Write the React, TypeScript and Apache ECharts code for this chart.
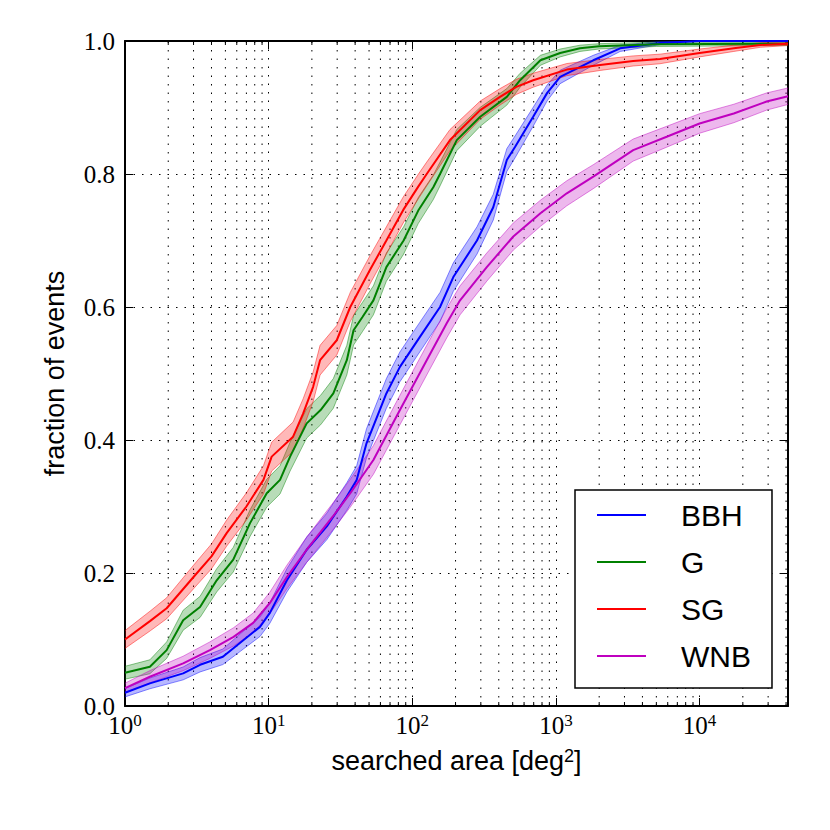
import React, { useEffect, useRef } from "react";
import * as echarts from "echarts";

// ---- data ----
const seriesNames = ["BBH", "G", "SG", "WNB"];

const bbhArea = [1, 1.49, 2.54, 3.33, 4.8, 6.66, 8.7, 10.2, 13.4, 18.4, 25.4, 35, 41, 48, 66, 82, 113, 156, 193, 282, 366, 455, 520, 694, 869, 1070, 1820, 2800, 5300, 10000, 41253];
const bbhFrac = [0.02, 0.034, 0.049, 0.062, 0.074, 0.099, 0.119, 0.14, 0.189, 0.235, 0.27, 0.315, 0.34, 0.395, 0.47, 0.51, 0.555, 0.6, 0.645, 0.7, 0.75, 0.821, 0.841, 0.886, 0.922, 0.946, 0.971, 0.989, 0.997, 1.0, 1.0];
const bbhErr = [0.0063, 0.0081, 0.0097, 0.0108, 0.0117, 0.0134, 0.0145, 0.0155, 0.0175, 0.019, 0.0199, 0.0208, 0.0212, 0.0219, 0.0223, 0.0224, 0.0222, 0.0219, 0.0214, 0.0205, 0.0194, 0.0171, 0.0164, 0.0142, 0.012, 0.0101, 0.0075, 0.0047, 0.0024, 0, 0];

const gArea = [1, 1.49, 1.95, 2.54, 3.33, 4.35, 5.67, 7.42, 9.7, 12, 14.1, 18.4, 23, 28.2, 35, 39, 45, 53.6, 66, 87, 110, 140, 156, 204, 297, 455, 563, 780, 1070, 1470, 2000, 5000, 41253];
const gFrac = [0.05, 0.059, 0.084, 0.129, 0.149, 0.189, 0.22, 0.275, 0.32, 0.34, 0.375, 0.425, 0.445, 0.47, 0.52, 0.565, 0.585, 0.61, 0.66, 0.7, 0.745, 0.78, 0.8, 0.851, 0.886, 0.916, 0.941, 0.971, 0.982, 0.989, 0.992, 0.995, 0.996];
const gErr = [0.0097, 0.0105, 0.0124, 0.015, 0.0159, 0.0175, 0.0185, 0.02, 0.0209, 0.0212, 0.0217, 0.0221, 0.0222, 0.0223, 0.0223, 0.0222, 0.022, 0.0218, 0.0212, 0.0205, 0.0195, 0.0185, 0.0179, 0.0159, 0.0142, 0.0124, 0.0105, 0.0075, 0.0059, 0.0047, 0.004, 0.0032, 0.0028];

const sgArea = [1, 1.5, 1.95, 3.0, 4, 5.1, 7.0, 9.2, 10.5, 14.8, 17.4, 20.4, 22.8, 29.8, 37, 50.8, 66, 86.5, 110, 126, 183, 297, 408, 530, 694, 1190, 2030, 3450, 5300, 10000, 17300, 26500, 41253];
const sgFrac = [0.1, 0.128, 0.147, 0.194, 0.225, 0.26, 0.3, 0.34, 0.375, 0.405, 0.44, 0.48, 0.52, 0.55, 0.6, 0.656, 0.7, 0.746, 0.781, 0.8, 0.851, 0.896, 0.916, 0.931, 0.941, 0.957, 0.964, 0.97, 0.973, 0.982, 0.989, 0.994, 0.996];
const sgErr = [0.0134, 0.0149, 0.0158, 0.0177, 0.0187, 0.0196, 0.0205, 0.0212, 0.0217, 0.022, 0.0222, 0.0223, 0.0223, 0.0222, 0.0219, 0.0212, 0.0205, 0.0195, 0.0185, 0.0179, 0.0159, 0.0137, 0.0124, 0.0113, 0.0105, 0.0091, 0.0083, 0.0076, 0.0072, 0.0059, 0.0047, 0.0035, 0.0028];

const wnbArea = [1, 1.49, 2.54, 3.9, 5.7, 7.8, 10.2, 13.4, 18.4, 28, 37, 53.6, 82, 126, 174, 215, 330, 505, 780, 1190, 1820, 3450, 5900, 10000, 17300, 29300, 41253];
const wnbFrac = [0.027, 0.044, 0.064, 0.084, 0.104, 0.125, 0.155, 0.194, 0.235, 0.285, 0.32, 0.37, 0.445, 0.52, 0.576, 0.61, 0.66, 0.706, 0.741, 0.771, 0.796, 0.836, 0.856, 0.876, 0.891, 0.909, 0.917];
const wnbErr = [0.0073, 0.0092, 0.0109, 0.0124, 0.0137, 0.0148, 0.0162, 0.0177, 0.019, 0.0202, 0.0209, 0.0216, 0.0222, 0.0223, 0.0221, 0.0218, 0.0212, 0.0204, 0.0196, 0.0188, 0.018, 0.0166, 0.0157, 0.0147, 0.0139, 0.0129, 0.0124];

const xMin = 1;
const xMax = 41253;
const minorTickValues = [
  2, 3, 4, 5, 6, 7, 8, 9,
  20, 30, 40, 50, 60, 70, 80, 90,
  200, 300, 400, 500, 600, 700, 800, 900,
  2000, 3000, 4000, 5000, 6000, 7000, 8000, 9000,
  20000, 30000, 40000,
];
const yTickLabels = ["0.0", "0.2", "0.4", "0.6", "0.8", "1.0"];

const SERIF = "'Liberation Serif', 'DejaVu Serif', serif";
const SANS = "'Liberation Sans', Arial, sans-serif";
const DOT = [1.5, 7];

type Spec = { name: string; rgb: string; xs: number[]; ys: number[]; err: number[] };
const specs: Spec[] = [
  { name: "BBH", rgb: "0,0,255", xs: bbhArea, ys: bbhFrac, err: bbhErr },
  { name: "G", rgb: "0,128,0", xs: gArea, ys: gFrac, err: gErr },
  { name: "SG", rgb: "255,0,0", xs: sgArea, ys: sgFrac, err: sgErr },
  { name: "WNB", rgb: "191,0,191", xs: wnbArea, ys: wnbFrac, err: wnbErr },
];

function xLabel(v: number): string {
  const l = Math.log10(v);
  const e = Math.round(l);
  if (Math.abs(l - e) > 1e-6) return "";
  return `{b|10}{s|${e}}`;
}

export default function App() {
  const ref = useRef<HTMLDivElement>(null);

  useEffect(() => {
    document.body.style.margin = "0";
    if (!ref.current) return;
    const chart = echarts.init(ref.current, undefined, { renderer: "svg" });

    const bandSeries = specs.map((s) => ({
      type: "custom",
      name: s.name + " band",
      xAxisIndex: 0,
      yAxisIndex: 0,
      data: [[s.xs[0], s.ys[0]]],
      z: 2,
      silent: true,
      clip: true,
      renderItem: (_p: any, api: any) => {
        const up = s.xs.map((x, i) => api.coord([x, s.ys[i] + s.err[i]]));
        const lo = s.xs.map((x, i) => api.coord([x, s.ys[i] - s.err[i]]));
        return {
          type: "group",
          children: [
            { type: "polygon", shape: { points: up.concat(lo.slice().reverse()) }, style: { fill: `rgba(${s.rgb},0.28)`, stroke: "none" } },
            { type: "polyline", shape: { points: up }, style: { stroke: `rgba(${s.rgb},0.45)`, lineWidth: 1, fill: "none" } },
            { type: "polyline", shape: { points: lo }, style: { stroke: `rgba(${s.rgb},0.45)`, lineWidth: 1, fill: "none" } },
          ],
        };
      },
    }));

    const lineSeries = specs.map((s) => ({
      type: "line",
      name: s.name,
      xAxisIndex: 0,
      yAxisIndex: 0,
      data: s.xs.map((x, i) => [x, s.ys[i]]),
      showSymbol: false,
      symbol: "none",
      color: `rgb(${s.rgb})`,
      lineStyle: { width: 2, color: `rgb(${s.rgb})` },
      z: 3,
      silent: true,
    }));

    const minorSeries = {
      type: "custom",
      name: "minor",
      xAxisIndex: 0,
      yAxisIndex: 0,
      data: minorTickValues.map((v) => [v, 0]),
      encode: { x: 0, y: 1 },
      z: 1,
      silent: true,
      renderItem: (_p: any, api: any) => {
        const x = api.value(0);
        const b = api.coord([x, 0]);
        const t = api.coord([x, 1]);
        return {
          type: "group",
          children: [
            { type: "line", shape: { x1: b[0], y1: b[1], x2: t[0], y2: t[1] }, style: { stroke: "#000", lineWidth: 1, lineDash: DOT } },
            { type: "line", shape: { x1: b[0], y1: b[1], x2: b[0], y2: b[1] - 4 }, style: { stroke: "#000", lineWidth: 1 } },
            { type: "line", shape: { x1: t[0], y1: t[1], x2: t[0], y2: t[1] + 4 }, style: { stroke: "#000", lineWidth: 1 } },
          ],
        };
      },
    };

    const axisLine = { show: true, onZero: false, lineStyle: { color: "#000", width: 2 } };
    const tick = { show: true, inside: true, length: 8, lineStyle: { color: "#000", width: 1 } };

    chart.setOption({
      animation: false,
      backgroundColor: "#fff",
      grid: { left: 125, right: 42, top: 41, bottom: 124, containLabel: false },
      xAxis: [
        {
          type: "log",
          logBase: 10,
          min: xMin,
          max: xMax,
          position: "bottom",
          axisLine,
          axisTick: tick,
          axisLabel: {
            margin: 6,
            formatter: xLabel,
            rich: {
              b: { fontFamily: SERIF, fontSize: 25, color: "#000", lineHeight: 26 },
              s: { fontFamily: SERIF, fontSize: 17, color: "#000", verticalAlign: "top", lineHeight: 17 },
            },
          },
          splitLine: { show: true, lineStyle: { color: "#000", width: 1, type: DOT } },
          name: "searched area [deg{s|2}]",
          nameLocation: "middle",
          nameGap: 41,
          nameTextStyle: {
            fontFamily: SANS,
            fontSize: 27,
            color: "#000",
            rich: { s: { fontFamily: SANS, fontSize: 18, color: "#000", verticalAlign: "top", lineHeight: 18 } },
          },
        },
        {
          type: "log",
          logBase: 10,
          min: xMin,
          max: xMax,
          position: "top",
          axisLine,
          axisTick: tick,
          axisLabel: { show: false },
          splitLine: { show: false },
        },
      ],
      yAxis: [
        {
          type: "value",
          min: 0,
          max: 1,
          interval: 0.2,
          position: "left",
          axisLine,
          axisTick: tick,
          axisLabel: {
            margin: 10,
            fontFamily: SERIF,
            fontSize: 25,
            color: "#000",
            formatter: (v: number) => yTickLabels[Math.round(v / 0.2)] ?? "",
          },
          splitLine: { show: true, lineStyle: { color: "#000", width: 1, type: DOT } },
          name: "fraction of events",
          nameLocation: "middle",
          nameGap: 57,
          nameTextStyle: { fontFamily: SANS, fontSize: 27, color: "#000" },
        },
        {
          type: "value",
          min: 0,
          max: 1,
          interval: 0.2,
          position: "right",
          axisLine,
          axisTick: tick,
          axisLabel: { show: false },
          splitLine: { show: false },
        },
      ],
      legend: {
        data: seriesNames,
        orient: "vertical",
        left: 575,
        top: 490,
        icon: "rect",
        itemWidth: 49,
        itemHeight: 2,
        itemGap: 11,
        padding: [7, 21, 14, 22],
        borderColor: "#000",
        borderWidth: 1.5,
        borderRadius: 0,
        backgroundColor: "#fff",
        z: 10,
        selectedMode: false,
        textStyle: { fontFamily: SANS, fontSize: 30, color: "#000", lineHeight: 36, padding: [0, 0, 0, 30] },
      },
      series: [minorSeries, ...bandSeries, ...lineSeries],
    });

    return () => chart.dispose();
  }, []);

  return <div ref={ref} style={{ width: 830, height: 830 }} />;
}
